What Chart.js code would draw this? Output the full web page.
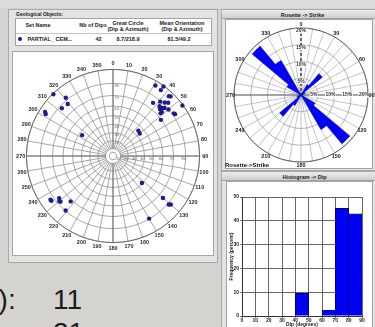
<!DOCTYPE html>
<html>
<head>
<meta charset="utf-8">
<script src="https://cdn.jsdelivr.net/npm/chart.js@4.4.1/dist/chart.umd.min.js"></script>
<style>
html,body{margin:0;padding:0}
body{width:375px;height:327px;overflow:hidden;position:relative;background:#d5d3cf;font-family:"Liberation Sans",Arial,sans-serif}
.abs{position:absolute}
.t{position:absolute;font:bold 5.5px/6px "Liberation Sans",Arial,sans-serif;color:#1a1a1a;text-align:center;white-space:nowrap}
.win{position:absolute;background:#e3e3e3;border:1px solid #a9a9a9;box-sizing:border-box}
.bar{position:absolute;background:linear-gradient(#ececec,#cfcfcf);border-bottom:1px solid #a0a0a0;box-sizing:border-box}
.white{position:absolute;background:#fff;border:1px solid #a4a4a4;box-sizing:border-box}
.big{position:absolute;font:28px/28px "Liberation Sans",Arial,sans-serif;color:#1c1c1c;white-space:nowrap}
canvas{position:absolute}
</style>
</head>
<body>
<div class="abs" style="left:0;top:0;width:375px;height:8px;background:#dcdcdc"></div>

<!-- left window: object table + stereonet -->
<div class="win" style="left:8px;top:9px;width:210px;height:254px"></div>
<div class="t" style="left:16px;top:11px;text-align:left;font-size:5px">Geological Objects:</div>
<div class="white" style="left:15px;top:18px;width:197px;height:28px"></div>
<div class="t" style="left:18px;top:22px;width:40px">Set Name</div>
<div class="t" style="left:73px;top:22px;width:40px">Nb of Dips</div>
<div class="t" style="left:103px;top:19.5px;width:50px">Great Circle</div>
<div class="t" style="left:103px;top:25.5px;width:50px">(Dip &amp; Azimuth)</div>
<div class="t" style="left:157px;top:19.5px;width:50px">Mean Orientation</div>
<div class="t" style="left:157px;top:25.5px;width:50px">(Dip &amp; Azimuth)</div>
<div class="abs" style="left:16px;top:33px;width:195px;height:1px;background:#c4c4c4"></div>
<div class="abs" style="left:18px;top:36.5px;width:4px;height:4px;border-radius:50%;background:#1212c8"></div>
<div class="t" style="left:27.5px;top:35.5px;text-align:left">PARTIAL_ CEM...</div>
<div class="t" style="left:88.5px;top:35.5px;width:20px">42</div>
<div class="t" style="left:103px;top:35.5px;width:50px">8.7/218.9</div>
<div class="t" style="left:154px;top:35.5px;width:50px">81.5/49.2</div>
<div class="white" style="left:12px;top:51px;width:202px;height:205px"></div>
<canvas id="net" width="210" height="210" style="left:8px;top:51px"></canvas>

<!-- rosette window -->
<div class="win" style="left:221px;top:9px;width:155px;height:162px"></div>
<div class="bar" style="left:222px;top:10px;width:153px;height:9px"></div>
<div class="t" style="left:250px;top:11.5px;width:105px">Rosette -&gt; Strike</div>
<div class="white" style="left:225px;top:19px;width:148px;height:150px"></div>
<canvas id="rose" width="160" height="160" style="left:221px;top:15px"></canvas>
<div class="t" style="left:225px;top:162px;text-align:left;font-size:6px;color:#111">Rosette-&gt;Strike</div>

<!-- histogram window -->
<div class="win" style="left:221px;top:171px;width:155px;height:160px"></div>
<div class="bar" style="left:222px;top:172px;width:153px;height:9px"></div>
<div class="t" style="left:252px;top:173.5px;width:105px">Histogram -&gt; Dip</div>
<div class="white" style="left:226px;top:181px;width:147px;height:150px"></div>
<canvas id="hist" width="150" height="153" style="left:222px;top:182px"></canvas>

<!-- slide text behind the windows -->
<div class="big" style="left:-17px;top:286px">o):</div>
<div class="big" style="left:53px;top:286px">11</div>
<div class="big" style="left:53px;top:319px">21</div>

<script>
// ---- Stereonet: poles of the measured planes ----
const POLE_DIP = [89.5, 81.8, 77.1, 77.9, 86.2, 85.0, 46.6, 87.1, 89.5, 86.5,
                  86.8, 87.5, 75.1, 79.5, 81.4, 83.1, 76.5, 77.3, 75.1, 78.2,
                  79.8, 89.5, 81.3, 81.7, 73.0, 74.4, 69.5, 45.0, 44.0, 49.1,
                  82.8, 82.6, 76.6, 77.6, 71.3, 79.6, 74.0, 81.0, 82.2, 79.7,
                  76.0, 78.0];
const POLE_AZIMUTH = [316, 321, 319, 313, 303, 302, 304, 31, 36, 36,
                      43, 44, 37, 41, 44, 46, 43, 46, 45, 47,
                      50, 54, 55, 56, 48, 48, 53, 45, 50, 133,
                      235, 234, 232, 229, 223, 221, 130, 131, 130, 150,
                      44, 230];
const AZIMUTH_TICKS = [0, 10, 20, 30, 40, 50, 60, 70, 80, 90, 100, 110, 120, 130, 140, 150, 160, 170,
                       180, 190, 200, 210, 220, 230, 240, 250, 260, 270, 280, 290, 300, 310, 320, 330, 340, 350];
const DIP_RINGS = [10, 20, 30, 40, 50, 60, 70, 80, 90];
const DIP_LABELS_NORTH = [20, 30, 40, 50, 60, 70, 80];
const DIP_LABELS_EAST = [10, 20, 30, 40, 50, 60, 70, 80];

// ---- Rosette of strikes (percent per 10 degree sector, from north, clockwise) ----
const STRIKE_SECTORS = ['0','10','20','30','40','50','60','70','80','90','100','110','120','130','140','150','160','170',
                        '180','190','200','210','220','230','240','250','260','270','280','290','300','310','320','330','340','350'];
const STRIKE_PCT = [0, 0, 0, 3.6, 8.3, 1.2, 1.2, 0, 0, 0, 0, 0, 4.8, 19.0, 11.9, 0, 0, 0,
                    0, 0, 0, 3.6, 8.3, 1.2, 1.2, 0, 0, 0, 0, 0, 4.8, 19.0, 11.9, 0, 0, 0];
const ROSE_DIRECTIONS = [0, 30, 60, 90, 120, 150, 180, 210, 240, 270, 300, 330];
const ROSE_RINGS = [5, 10, 15, 20];

// ---- Histogram of dips ----
const DIP_CLASS_START = [0, 10, 20, 30, 40, 50, 60, 70, 80];
const DIP_FREQ_PCT = [0, 0, 0, 0, 9.5, 0, 2.4, 45.2, 42.9];

Chart.defaults.font.family = '"Liberation Sans", Arial, sans-serif';
Chart.defaults.color = '#1a1a1a';

const RAD = Math.PI / 180;
const NET_RADIUS = 90;                       // primitive circle, in axis units
const project = dip => NET_RADIUS * Math.tan(dip * Math.PI / 360);   // stereographic

const stereoNet = {
  id: 'stereoNet',
  beforeDatasetsDraw(chart) {
    const {ctx, scales: {x, y}} = chart;
    const cx = x.getPixelForValue(0), cy = y.getPixelForValue(0);
    const px = v => x.getPixelForValue(v) - cx;
    const rIn = px(project(DIP_RINGS[0])), rOut = px(project(90));
    ctx.save();
    ctx.strokeStyle = '#929292';
    ctx.lineWidth = 0.8;
    AZIMUTH_TICKS.forEach(a => {
      const s = Math.sin(a * RAD), c = Math.cos(a * RAD);
      ctx.beginPath();
      ctx.moveTo(cx + rIn * s, cy - rIn * c);
      ctx.lineTo(cx + rOut * s, cy - rOut * c);
      ctx.stroke();
    });
    DIP_RINGS.forEach(d => {
      ctx.beginPath();
      ctx.arc(cx, cy, px(project(d)), 0, 2 * Math.PI);
      ctx.stroke();
    });
    ctx.beginPath(); ctx.arc(cx, cy, px(project(5)), 0, 2 * Math.PI); ctx.stroke();
    // main axes
    ctx.strokeStyle = '#666';
    ctx.lineWidth = 0.9;
    ctx.beginPath();
    ctx.moveTo(cx - rOut, cy); ctx.lineTo(cx - rIn, cy);
    ctx.moveTo(cx + rIn, cy); ctx.lineTo(cx + rOut, cy);
    ctx.moveTo(cx, cy - rOut); ctx.lineTo(cx, cy - rIn);
    ctx.moveTo(cx, cy + rIn); ctx.lineTo(cx, cy + rOut);
    ctx.stroke();
    ctx.beginPath(); ctx.arc(cx, cy, rOut, 0, 2 * Math.PI); ctx.stroke();
    // azimuth labels
    ctx.fillStyle = '#2a2a2a';
    ctx.font = 'bold 5.5px "Liberation Sans", Arial, sans-serif';
    ctx.textAlign = 'center';
    ctx.textBaseline = 'middle';
    const rl = px(96);
    AZIMUTH_TICKS.forEach(a => {
      ctx.fillText(String(a), cx + rl * Math.sin(a * RAD), cy - rl * Math.cos(a * RAD));
    });
    // dip graduation
    ctx.fillStyle = '#666';
    ctx.font = '4px "Liberation Sans", Arial, sans-serif';
    ctx.textAlign = 'left';
    DIP_LABELS_NORTH.forEach(d => ctx.fillText(String(d), cx + 1.5, cy - px(project(d)) + 2.5));
    ctx.textAlign = 'center';
    DIP_LABELS_EAST.forEach(d => ctx.fillText(String(d), cx + px(project(d)) - 2, cy + 2.5));
    ctx.restore();
  }
};

new Chart(document.getElementById('net'), {
  type: 'scatter',
  data: {
    datasets: [{
      data: POLE_DIP.map((d, i) => ({
        x: project(d) * Math.sin(POLE_AZIMUTH[i] * RAD),
        y: project(d) * Math.cos(POLE_AZIMUTH[i] * RAD)
      })),
      pointRadius: 2.2,
      backgroundColor: '#1c1c8e',
      borderColor: '#1c1c8e',
      borderWidth: 0
    }]
  },
  options: {
    responsive: false, animation: false, events: [],
    layout: {padding: 0},
    plugins: {legend: {display: false}, tooltip: {enabled: false}},
    scales: {
      x: {type: 'linear', min: -105, max: 105, display: false},
      y: {type: 'linear', min: -105, max: 105, display: false}
    }
  },
  plugins: [stereoNet]
});

const roseFrame = {
  id: 'roseFrame',
  beforeDatasetsDraw(chart) {
    const {ctx} = chart;
    const r = chart.scales.r;
    const cx = r.xCenter, cy = r.yCenter, R = r.drawingArea;
    ctx.save();
    ctx.strokeStyle = '#5a5a5a';
    ctx.lineWidth = 0.9;
    ctx.beginPath(); ctx.moveTo(cx - R, cy); ctx.lineTo(cx + R, cy); ctx.stroke();
    ctx.beginPath(); ctx.arc(cx, cy, R, 0, 2 * Math.PI); ctx.stroke();
    ctx.restore();
  },
  afterDatasetsDraw(chart) {
    const {ctx} = chart;
    const r = chart.scales.r;
    const cx = r.xCenter, cy = r.yCenter, R = r.drawingArea;
    ctx.save();
    ctx.strokeStyle = '#222';
    ctx.lineWidth = 1.2;
    ctx.setLineDash([3, 2]);
    ctx.beginPath(); ctx.moveTo(cx, cy - R); ctx.lineTo(cx, cy); ctx.stroke();
    ctx.setLineDash([]);
    ctx.font = 'bold 5px "Liberation Sans", Arial, sans-serif';
    ctx.textAlign = 'center';
    ctx.textBaseline = 'middle';
    ROSE_RINGS.forEach(v => {
      const d = r.getDistanceFromCenterForValue(v);
      const txt = v + '%';
      const w = ctx.measureText(txt).width;
      ctx.fillStyle = '#fff';
      ctx.fillRect(cx - w / 2 - 0.5, cy - d + 0.5, w + 1, 5);
      ctx.fillRect(cx + d - 4 - w / 2 - 0.5, cy - 2.5, w + 1, 5);
      ctx.fillStyle = '#333';
      ctx.fillText(txt, cx, cy - d + 3);
      ctx.fillText(txt, cx + d - 4, cy);
    });
    ctx.fillStyle = '#222';
    ctx.font = 'bold 5.5px "Liberation Sans", Arial, sans-serif';
    const rl = R + 3.5;
    ROSE_DIRECTIONS.forEach(a => {
      ctx.fillText(String(a), cx + rl * Math.sin(a * RAD), cy - rl * Math.cos(a * RAD));
    });
    ctx.restore();
  }
};

new Chart(document.getElementById('rose'), {
  type: 'polarArea',
  data: {
    labels: STRIKE_SECTORS,
    datasets: [{
      data: STRIKE_PCT,
      backgroundColor: '#0000f2',
      borderColor: '#0000f2',
      borderWidth: 0.5
    }]
  },
  options: {
    responsive: false, animation: false, events: [],
    layout: {padding: 13},
    plugins: {legend: {display: false}, tooltip: {enabled: false}},
    scales: {
      r: {
        min: 0, max: 20, startAngle: 0,
        ticks: {display: false, stepSize: 5},
        grid: {color: '#949494', lineWidth: 0.7},
        angleLines: {display: true, color: '#9c9c9c', lineWidth: 0.6},
        pointLabels: {display: false}
      }
    }
  },
  plugins: [roseFrame]
});

new Chart(document.getElementById('hist'), {
  type: 'bar',
  data: {
    datasets: [{
      data: DIP_CLASS_START.map((s, i) => ({x: s + 5, y: DIP_FREQ_PCT[i]})),
      backgroundColor: '#0000f5',
      borderColor: '#00004a',
      borderWidth: 0.6,
      barPercentage: 1,
      categoryPercentage: 1
    }]
  },
  options: {
    responsive: false, animation: false, events: [],
    layout: {padding: {top: 15, right: 10, left: 0, bottom: 0}},
    plugins: {legend: {display: false}, tooltip: {enabled: false}},
    scales: {
      x: {
        type: 'linear', min: 0, max: 90, offset: false, z: 1,
        afterFit: s => { s.height = 19; },
        grid: {color: '#555', lineWidth: 0.9, tickLength: 2, offset: false},
        border: {color: '#333', width: 1},
        ticks: {stepSize: 10, padding: 0, maxRotation: 0, autoSkip: false, font: {size: 5, weight: 'bold'}},
        title: {display: true, text: 'Dip (degrees)', font: {size: 5, weight: 'bold'}, padding: {top: 0, bottom: 7}}
      },
      y: {
        type: 'linear', min: 0, max: 50, z: 1,
        afterFit: s => { s.width = 20; },
        grid: {color: '#555', lineWidth: 0.9, tickLength: 2},
        border: {color: '#333', width: 1},
        ticks: {stepSize: 10, padding: 1, font: {size: 5, weight: 'bold'}},
        title: {display: true, text: 'Frequency (percent)', font: {size: 5, weight: 'bold'}, padding: {top: 7, bottom: 0}}
      }
    }
  }
});
</script>
</body>
</html>
